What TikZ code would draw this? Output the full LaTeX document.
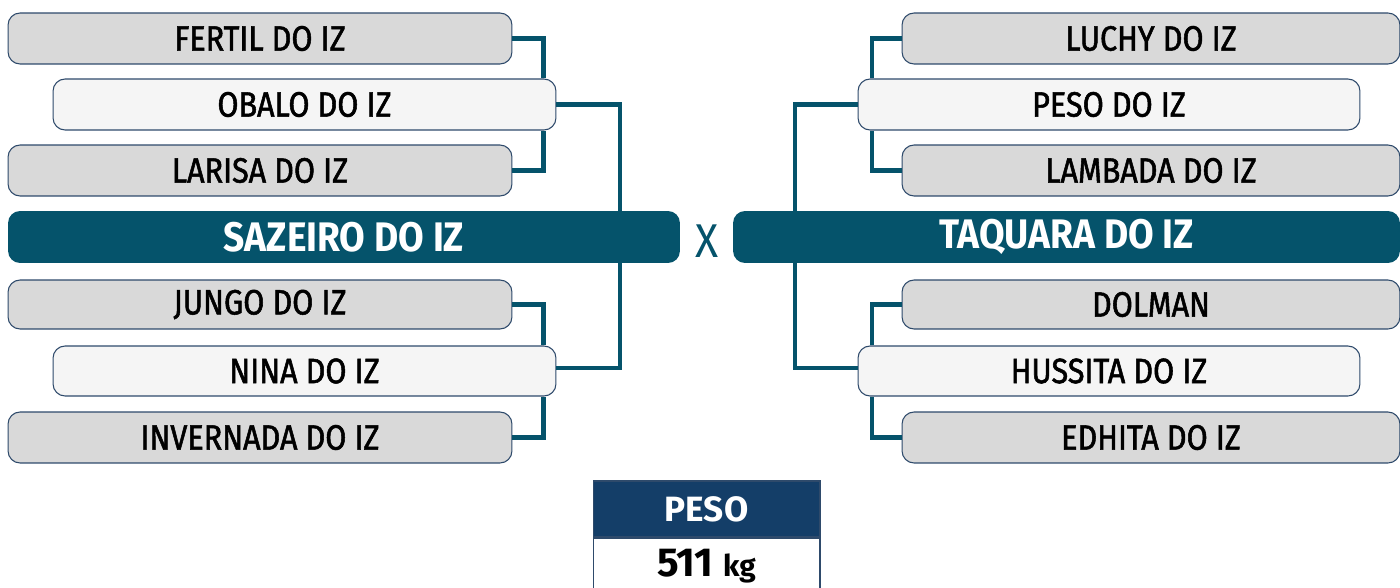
\documentclass[tikz,border=0pt]{standalone}
\usepackage{fontspec}
\setmainfont{Fira Sans}
\newfontfamily\boxfont{Fira Sans}[FakeStretch=0.87,FakeBold=1.5]
\newfontfamily\mainfont{Fira Sans}[FakeStretch=0.9]
\newfontfamily\pesofont{Fira Sans}
\definecolor{tealc}{HTML}{05536B}
\definecolor{greyc}{HTML}{D9D9D9}
\definecolor{lightc}{HTML}{F5F5F5}
\definecolor{bordc}{HTML}{2E4A6B}
\definecolor{pesoc}{HTML}{143E68}
\tikzset{
  box/.style={draw=bordc, line width=0.6pt, rounded corners=0.24cm, minimum height=1.02cm, inner sep=0pt, text=black, font=\boxfont\fontsize{20}{21}\selectfont},
  gbox/.style={box, fill=greyc, minimum width=10.08cm},
  rgbox/.style={box, fill=greyc, minimum width=9.96cm},
  wbox/.style={box, fill=lightc, minimum width=10.06cm},
  mainbox/.style={fill=tealc, rounded corners=0.24cm, minimum height=1.04cm, inner sep=0pt, text=white, font=\mainfont\bfseries\fontsize{23.5}{25}\selectfont},
  conn/.style={draw=tealc, line width=2.3pt},
}
\begin{document}
\begin{tikzpicture}[x=0.02cm,y=-0.02cm]
\clip (0,0) rectangle (1400,588);
\useasboundingbox (0,0) rectangle (1400,588);
% left side
\node[gbox] (fertil) at (260,38.5) {FERTIL DO IZ};
\node[wbox] (obalo) at (304.5,104.5) {OBALO DO IZ};
\node[gbox] (larisa) at (260,170.5) {LARISA DO IZ};
\node[mainbox, minimum width=13.44cm] (sazeiro) at (344,237) {SAZEIRO DO IZ};
\node[gbox, minimum height=0.98cm] (jungo) at (260,304.5) {JUNGO DO IZ};
\node[wbox, minimum height=1.0cm] (nina) at (304.5,371) {NINA DO IZ};
\node[gbox] (invernada) at (260,437.5) {INVERNADA DO IZ};
% right side
\node[rgbox] (luchy) at (1151,38.5) {LUCHY DO IZ};
\node[wbox, minimum width=10.04cm] (peso) at (1109,104.5) {PESO DO IZ};
\node[rgbox] (lambada) at (1151,170.5) {LAMBADA DO IZ};
\node[mainbox, minimum width=13.34cm] (taquara) at (1066.5,237) {TAQUARA DO IZ};
\node[rgbox, minimum height=0.98cm] (dolman) at (1151,304.5) {DOLMAN};
\node[wbox, minimum width=10.04cm, minimum height=1.0cm] (hussita) at (1109,371) {HUSSITA DO IZ};
\node[rgbox] (edhita) at (1151,437.5) {EDHITA DO IZ};
% versus
\node[text=tealc, font=\mainfont\fontsize{27}{29}\selectfont, inner sep=0pt] (vs) at (707,241) {X};
% connectors left
\draw[conn] (fertil.east) -| ([xshift=-0.26cm]obalo.north east);
\draw[conn] (larisa.east) -| ([xshift=-0.26cm]obalo.south east);
\draw[conn] (obalo.east) -| ([xshift=-1.2cm]sazeiro.north east);
\draw[conn] ([xshift=-1.2cm]sazeiro.south east) |- ([yshift=0.06cm]nina.east);
\draw[conn] (jungo.east) -| ([xshift=-0.26cm]nina.north east);
\draw[conn] (invernada.east) -| ([xshift=-0.26cm]nina.south east);
% connectors right
\draw[conn] (luchy.west) -| ([xshift=0.28cm]peso.north west);
\draw[conn] (lambada.west) -| ([xshift=0.28cm]peso.south west);
\draw[conn] (peso.west) -| ([xshift=1.24cm]taquara.north west);
\draw[conn] ([xshift=1.24cm]taquara.south west) |- ([yshift=0.06cm]hussita.west);
\draw[conn] (dolman.west) -| ([xshift=0.28cm]hussita.north west);
\draw[conn] (edhita.west) -| ([xshift=0.28cm]hussita.south west);
% peso box
\node[draw=bordc, line width=0.6pt, fill=pesoc, minimum width=4.54cm, minimum height=1.12cm, inner sep=0pt, text=white, font=\pesofont\bfseries\fontsize{20}{22}\selectfont] (pesoh) at (706.5,509) {PESO};
\node[draw=bordc, line width=0.6pt, fill=white, minimum width=4.54cm, minimum height=1.26cm, inner sep=0pt, anchor=north] (pesob) at (pesoh.south) {};
\node[inner sep=0pt, font=\pesofont\bfseries\fontsize{23}{25}\selectfont] (pesov) at (706.5,566) {511 {\fontsize{17}{18}\selectfont kg}};
\end{tikzpicture}
\end{document}
